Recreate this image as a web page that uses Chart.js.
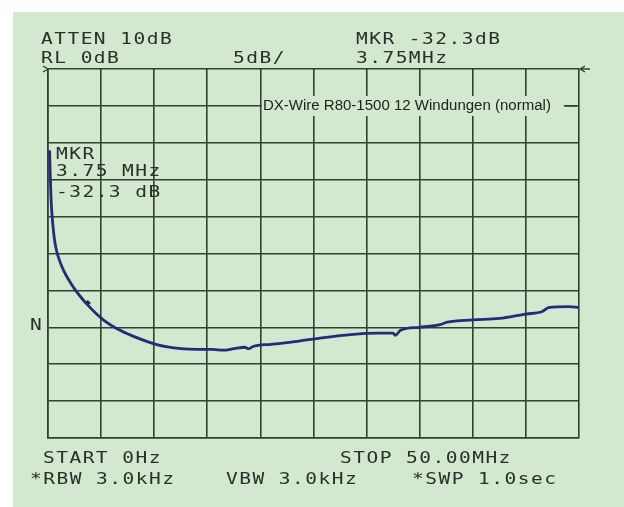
<!DOCTYPE html>
<html>
<head>
<meta charset="utf-8">
<script src="https://cdn.jsdelivr.net/npm/chart.js@4/dist/chart.umd.min.js"></script>
<style>
  html, body { margin: 0; padding: 0; background: #fff; }
  #wrap { width: 624px; height: 507px; position: relative; }
</style>
</head>
<body>
<div id="wrap"><canvas id="spectrum"></canvas></div>
<script>
// trace: frequency in MHz, level in dB (RL 0 dB, 5 dB/div)
const freqMHz = [0.15, 0.2, 0.3, 0.45, 0.6, 0.8, 1.1, 1.5, 2.0, 2.6, 3.2, 3.75, 4.5, 5.3, 6.5, 8.0, 9.5, 11.0,
  12.5, 14.0, 15.5, 16.5, 17.5, 18.5, 18.9, 19.3, 21.0, 23.5, 26.0, 28.5, 31.0, 32.5, 32.7, 33.2,
  35.0, 37.0, 37.6, 40.0, 42.5, 45.0, 46.5, 47.2, 49.0, 50.0];
const levelDb = [-11.0, -14.0, -18.0, -21.0, -23.0, -24.6, -26.0, -27.4, -28.7, -30.0, -31.1, -32.0, -33.1, -34.1, -35.2, -36.2, -37.0, -37.6,
  -37.9, -38.0, -38.0, -38.1, -37.9, -37.7, -37.9, -37.6, -37.3, -36.9, -36.4, -36.0, -35.8, -35.8, -36.1, -35.4,
  -35.0, -34.6, -34.3, -34.0, -33.8, -33.2, -32.9, -32.3, -32.2, -32.3];
const markerFreq = [3.75];
const markerLevel = [-32.3];
const traceName = 'DX-Wire R80-1500 12 Windungen (normal)';

const GREEN = '#d3e8cf';
const INK = '#2b2f2b';
const GRID = '#333f33';

const screenText = {
  id: 'screenText',
  beforeDraw(chart) {
    const c = chart.ctx;
    c.save();
    c.fillStyle = '#ffffff';
    c.fillRect(0, 0, chart.width, chart.height);
    c.fillStyle = GREEN;
    c.fillRect(13, 12, chart.width - 13, chart.height - 12);
    c.restore();
  },
  afterDraw(chart) {
    const c = chart.ctx;
    const a = chart.chartArea;
    const xs = chart.scales.x, ys = chart.scales.y;
    c.save();

    // legend box cut into the grid
    const ly = ys.getPixelForValue(-5);
    const lx0 = xs.getPixelForValue(20) + 1.5;
    c.fillStyle = GREEN;
    c.fillRect(lx0, ly - 10, 302, 20);
    c.font = '14px "Liberation Sans", Arial, sans-serif';
    c.fillStyle = '#222';
    c.textBaseline = 'middle';
    const w = c.measureText(traceName).width;
    c.save();
    c.translate(lx0 + 1, ly + 0.5);
    c.scale(288 / w, 1);
    c.fillText(traceName, 0, 0);
    c.restore();
    c.strokeStyle = GRID;
    c.lineWidth = 1.5;
    c.beginPath();
    c.moveTo(a.right - 14, ly); c.lineTo(a.right - 2, ly);
    c.stroke();

    // reference level arrows
    c.lineWidth = 1.3;
    c.beginPath();
    c.moveTo(a.left - 5, a.top - 3); c.lineTo(a.left, a.top); c.lineTo(a.left - 5, a.top + 3);
    c.moveTo(a.right + 6, a.top - 3); c.lineTo(a.right + 1, a.top); c.lineTo(a.right + 6, a.top + 3);
    c.moveTo(a.right + 1, a.top); c.lineTo(a.right + 11, a.top);
    c.stroke();

    // analyser annotations, wide HP-style lettering
    c.fillStyle = INK;
    c.textBaseline = 'alphabetic';
    c.font = '16px "DejaVu Sans Mono", monospace';
    c.letterSpacing = '1.2px';
    const t = (s, x, y) => {
      c.save();
      c.translate(x, y);
      c.scale(1.22, 1);
      c.fillText(s, 0, 0);
      c.restore();
    };
    t('ATTEN 10dB', 41, 44);
    t('RL 0dB', 41, 63);
    t('MKR -32.3dB', 356, 44);
    t('5dB/', 233, 63);
    t('3.75MHz', 356, 63);
    t('MKR', 56, 159);
    t('3.75 MHz', 56, 176);
    t('-32.3 dB', 56, 197);
    t('N', 30, 330);
    t('START 0Hz', 43, 463);
    t('STOP 50.00MHz', 340, 463);
    t('*RBW 3.0kHz', 30, 484);
    t('VBW 3.0kHz', 226, 484);
    t('*SWP 1.0sec', 412, 484);
    c.restore();
  }
};

const flat = s => { s.height = 0; s.width = 0; };

new Chart(document.getElementById('spectrum'), {
  type: 'line',
  data: {
    datasets: [{
      data: freqMHz.map((f, i) => ({ x: f, y: levelDb[i] })),
      borderColor: '#27297a',
      borderWidth: 2.8,
      pointRadius: 0,
      cubicInterpolationMode: 'monotone',
      fill: false
    }, {
      data: markerFreq.map((f, i) => ({ x: f, y: markerLevel[i] + 0.6 })),
      showLine: false,
      pointStyle: 'rectRot',
      pointRadius: 2.5,
      backgroundColor: '#222',
      borderColor: '#222'
    }]
  },
  options: {
    responsive: true,
    maintainAspectRatio: false,
    animation: false,
    layout: { padding: { left: 48, top: 69, right: 45, bottom: 69 } },
    plugins: { legend: { display: false }, tooltip: { enabled: false } },
    scales: {
      x: {
        type: 'linear', min: 0, max: 50,
        ticks: { display: false, stepSize: 5 },
        grid: { color: GRID, lineWidth: 1.6, drawTicks: false },
        border: { color: GRID, width: 1.6 },
        afterFit: flat
      },
      y: {
        min: -50, max: 0,
        ticks: { display: false, stepSize: 5 },
        grid: { color: GRID, lineWidth: 1.6, drawTicks: false },
        border: { color: GRID, width: 1.6 },
        afterFit: flat
      }
    }
  },
  plugins: [screenText]
});
</script>
</body>
</html>
